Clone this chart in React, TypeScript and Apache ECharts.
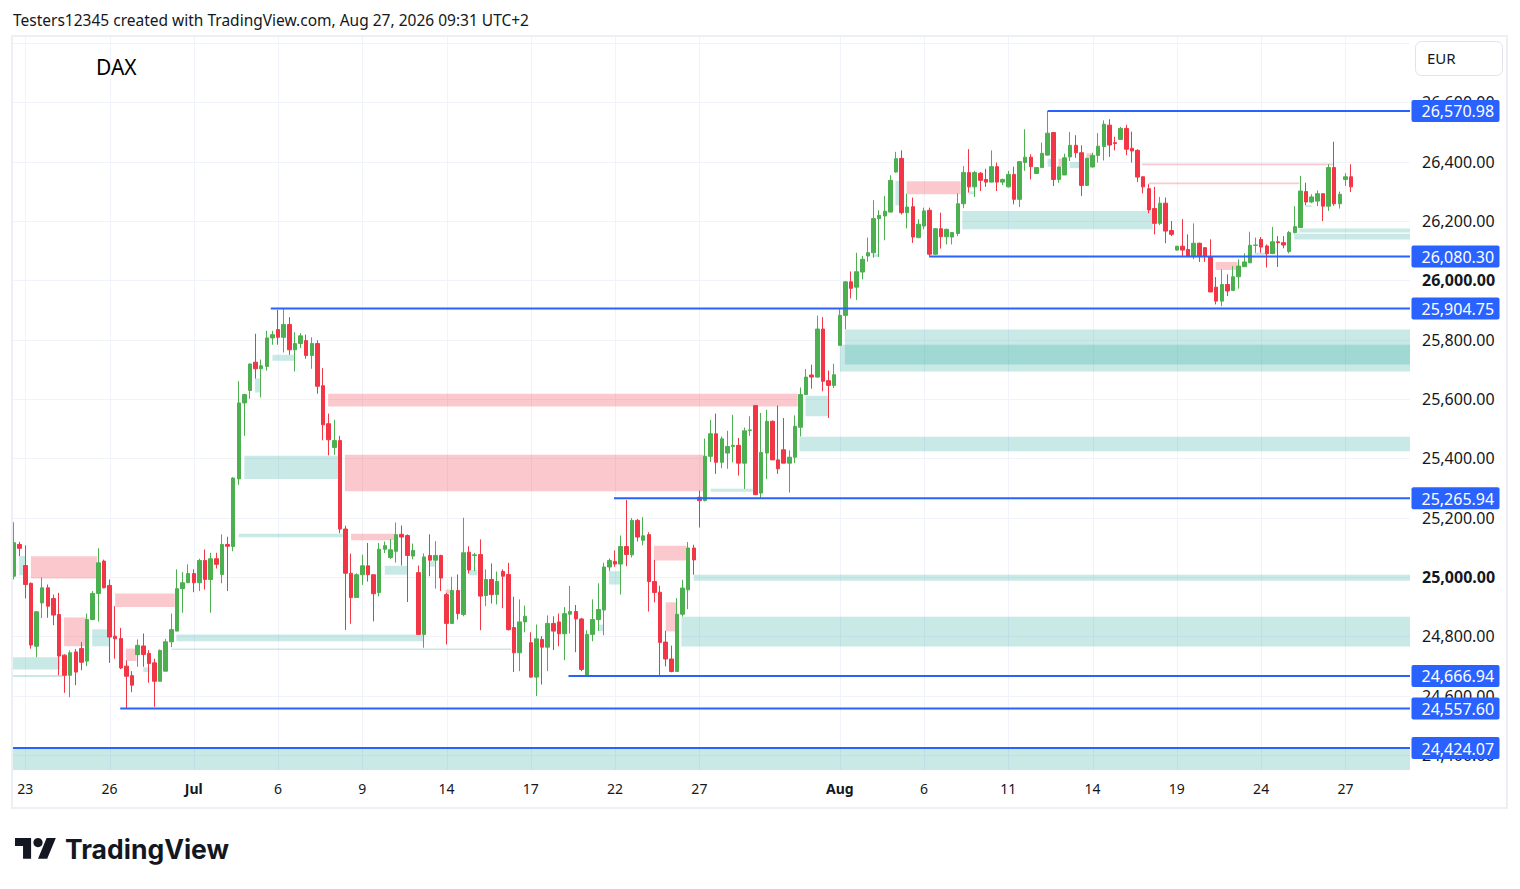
import React, { useEffect, useRef } from "react";
import * as echarts from "echarts";

const FONT = '"Noto Sans", "DejaVu Sans", sans-serif';
const UP = "#4caf50";
const DOWN = "#f23645";
const BLUE = "#2962ff";
const TEXT = "#131722";
const GRIDC = "#f0f3fa";
const GREEN_ZONE = "rgba(38,166,154,0.25)";
const RED_ZONE = "rgba(242,54,69,0.27)";

// trading days shown: [date, number of candles]
const tradingDays: [string, number][] = [
  ["06-22", 2], ["06-23", 5], ["06-24", 5], ["06-25", 5], ["06-26", 5],
  ["06-29", 5], ["06-30", 5], ["07-01", 5], ["07-02", 5], ["07-03", 5],
  ["07-06", 5], ["07-07", 5], ["07-08", 5], ["07-09", 5], ["07-10", 5],
  ["07-13", 5], ["07-14", 5], ["07-15", 5], ["07-16", 5], ["07-17", 5],
  ["07-20", 5], ["07-21", 5], ["07-22", 5], ["07-23", 5], ["07-24", 5],
  ["07-27", 5], ["07-28", 5], ["07-29", 5], ["07-30", 5], ["07-31", 5],
  ["08-03", 5], ["08-04", 5], ["08-05", 5], ["08-06", 5], ["08-07", 5],
  ["08-10", 5], ["08-11", 5], ["08-12", 5], ["08-13", 5], ["08-14", 5],
  ["08-17", 5], ["08-18", 5], ["08-19", 5], ["08-20", 5], ["08-21", 5],
  ["08-24", 5], ["08-25", 5], ["08-26", 5], ["08-27", 2],
];

// time-axis tick labels: [day, label]
const xTicks: [string, string][] = [
  ["06-23", "23"], ["06-26", "26"], ["07-01", "Jul"], ["07-06", "6"],
  ["07-09", "9"], ["07-14", "14"], ["07-17", "17"], ["07-22", "22"],
  ["07-27", "27"], ["08-03", "Aug"], ["08-06", "6"], ["08-11", "11"],
  ["08-14", "14"], ["08-19", "19"], ["08-24", "24"], ["08-27", "27"],
];
const boldTicks = ["Jul", "Aug"];

// price scale
const priceTicks = [24400, 24600, 24800, 25000, 25200, 25400, 25600, 25800, 26000, 26200, 26400, 26600, 26800];
const priceLabelTicks = [24400, 24600, 24800, 25000, 25200, 25400, 25600, 25800, 26000, 26200, 26400, 26600];
const boldPrices = [25000, 26000];
const priceMin = 24350;
const priceMax = 26820;

// candles: [open, close, low, high]
const wkJun22: number[][] = [
  [25003, 25116, 24992, 25185], [25110, 25097, 25071, 25119],
  [25039, 24975, 24928, 25107], [24979, 24771, 24759, 24982], [24767, 24883, 24730, 24885], [24913, 24964, 24862, 24999], [24964, 24902, 24863, 24975],
  [24928, 24872, 24838, 24941], [24874, 24734, 24669, 24947], [24737, 24669, 24610, 24740], [24669, 24745, 24595, 24753], [24748, 24680, 24636, 24758],
  [24759, 24713, 24686, 24781], [24717, 24857, 24700, 24877], [24857, 24945, 24855, 24953], [24945, 25048, 24850, 25097], [25054, 24964, 24962, 25059],
  [24972, 24798, 24711, 24992], [24801, 24792, 24725, 24902], [24793, 24694, 24690, 24829], [24700, 24666, 24557.6, 24719], [24668, 24636, 24612, 24683],
];
const wkJun29: number[][] = [
  [24739, 24770, 24698, 24790], [24768, 24739, 24698, 24810], [24743, 24709, 24644, 24754], [24711, 24649, 24563, 24725], [24649, 24753, 24649, 24756],
  [24683, 24782, 24683, 24792], [24782, 24823, 24764, 24877], [24818, 24961, 24818, 25026], [24961, 24981, 24880, 25017], [24981, 25012, 24981, 25043],
  [25012, 24981, 24949, 25026], [24981, 25056, 24953, 25062], [25056, 24992, 24958, 25093], [24992, 25062, 24880, 25082], [25062, 25043, 25029, 25082],
  [25009, 25110, 24979, 25144], [25110, 25104, 24953, 25136], [25103, 25334, 25087, 25336], [25331, 25587, 25311, 25660], [25587, 25615, 25476, 25618],
  [25629, 25718, 25601, 25720], [25724, 25702, 25669, 25820], [25702, 25712, 25606, 25733], [25710, 25806, 25696, 25830], [25806, 25817, 25783, 25830],
];
const wkJul06: number[][] = [
  [25834, 25808, 25783, 25900], [25808, 25851, 25757, 25904.75], [25851, 25766, 25749, 25876], [25766, 25787, 25693, 25825], [25787, 25813, 25772, 25822],
  [25797, 25747, 25736, 25817], [25747, 25787, 25702, 25808], [25787, 25643, 25618, 25798], [25645, 25513, 25461, 25704], [25517, 25463, 25410, 25551],
  [25437, 25460, 25412, 25530], [25460, 25162, 25148, 25476], [25162, 25013, 24822, 25173], [25013, 24931, 24843, 25079], [24931, 25008, 24931, 25013],
  [25008, 25038, 24974, 25075], [25038, 25008, 24985, 25115], [25008, 24944, 24851, 25008], [24948, 25094, 24935, 25115], [25094, 25106, 25081, 25120],
  [25066, 25092, 25061, 25128], [25087, 25143, 25049, 25184], [25144, 25135, 25039, 25174], [25140, 25073, 24916, 25144], [25071, 25090, 25060, 25113],
];
const wkJul13: number[][] = [
  [25015, 24807, 24805, 25039], [24807, 25068, 24762, 25080], [25073, 25057, 25003, 25144], [25057, 25073, 24961, 25121], [25073, 24997, 24953, 25075],
  [24941, 24844, 24773, 24947], [24844, 24955, 24842, 25001], [24955, 24877, 24857, 25009], [24874, 25082, 24868, 25200], [25084, 25024, 25012, 25104],
  [25073, 25075, 25020, 25082], [25076, 24936, 24821, 25127], [24938, 24992, 24902, 25026], [24992, 24941, 24911, 25046], [24941, 24985, 24908, 25019],
  [25019, 25003, 24895, 25026], [25009, 24823, 24820, 25048], [24830, 24745, 24680, 24934], [24745, 24849, 24683, 24925], [24849, 24868, 24814, 24904],
  [24779, 24663, 24661, 24814], [24663, 24792, 24599, 24840], [24790, 24764, 24638, 24801], [24764, 24844, 24683, 24871], [24844, 24818, 24754, 24868],
];
const wkJul20: number[][] = [
  [24849, 24809, 24767, 24877], [24809, 24877, 24720, 24899], [24875, 24884, 24810, 24970], [24884, 24859, 24747, 24906], [24859, 24689, 24683, 24863],
  [24669, 24807, 24667, 24821], [24807, 24857, 24784, 24925], [24857, 24891, 24818, 24979], [24889, 25034, 24804, 25048], [25034, 25056, 25020, 25063],
  [25053, 25044, 25035, 25090], [25044, 25103, 24941, 25140], [25103, 25076, 25037, 25260], [25075, 25191, 25066, 25199], [25191, 25135, 25120, 25196],
  [25124, 25139, 25107, 25202], [25143, 24985, 24884, 25151], [24985, 24948, 24915, 25058], [24949, 24780, 24667, 24971], [24781, 24724, 24699, 24819],
  [24724, 24682, 24679, 24769], [24682, 24875, 24680, 24929], [24875, 24963, 24867, 24991], [24957, 25098, 24892, 25118], [25098, 25058, 25008, 25109],
];
const wkJul27: number[][] = [
  [25269, 25258, 25167, 25291], [25258, 25407, 25255, 25467], [25407, 25483, 25388, 25530], [25483, 25387, 25348, 25551], [25387, 25466, 25367, 25474],
  [25418, 25440, 25365, 25493], [25440, 25444, 25387, 25547], [25444, 25384, 25342, 25469], [25384, 25493, 25297, 25504], [25494, 25496, 25476, 25542],
  [25578, 25278, 25276, 25580], [25283, 25420, 25266, 25553], [25418, 25525, 25330, 25564], [25525, 25395, 25395, 25528], [25395, 25365, 25348, 25578],
  [25429, 25384, 25384, 25536], [25384, 25404, 25285, 25427], [25404, 25508, 25384, 25545], [25505, 25615, 25474, 25639], [25615, 25674, 25615, 25701],
  [25681, 25674, 25635, 25716], [25674, 25836, 25672, 25881], [25836, 25660, 25626, 25876], [25662, 25646, 25536, 25696], [25646, 25682, 25637, 25719],
];
const wkAug03: number[][] = [
  [25781, 25882, 25780, 25903], [25882, 25995, 25835, 25997], [25995, 25973, 25939, 26030], [25977, 26029, 25934, 26093], [26028, 26071, 26003, 26082],
  [26082, 26093, 26063, 26144], [26093, 26208, 26076, 26270], [26208, 26219, 26079, 26236], [26217, 26233, 26135, 26284], [26230, 26337, 26230, 26354],
  [26365, 26410, 26363, 26433], [26411, 26228, 26222, 26438], [26228, 26247, 26175, 26292], [26248, 26146, 26126, 26279], [26144, 26189, 26142, 26206],
  [26183, 26234, 26172, 26245], [26236, 26088, 26080.3, 26245], [26088, 26174, 26086, 26176], [26174, 26147, 26107, 26228], [26147, 26172, 26121, 26174],
  [26146, 26161, 26121, 26163], [26158, 26258, 26149, 26293], [26258, 26363, 26243, 26385], [26363, 26315, 26296, 26442], [26315, 26363, 26281, 26369],
];
const wkAug10: number[][] = [
  [26361, 26337, 26301, 26365], [26340, 26331, 26315, 26376], [26331, 26383, 26331, 26438], [26383, 26331, 26301, 26397], [26331, 26340, 26321, 26343],
  [26315, 26357, 26313, 26369], [26357, 26273, 26256, 26383], [26273, 26400, 26247, 26400], [26397, 26415, 26369, 26509], [26415, 26383, 26340, 26425],
  [26360, 26380, 26359, 26381], [26380, 26428, 26380, 26464], [26422, 26496, 26420, 26570.98], [26498, 26340, 26318, 26500], [26340, 26382, 26329, 26383],
  [26355, 26413, 26355, 26427], [26416, 26455, 26402, 26500], [26455, 26430, 26413, 26489], [26430, 26320, 26284, 26455], [26320, 26411, 26318, 26413],
  [26382, 26421, 26380, 26430], [26421, 26452, 26397, 26496], [26451, 26526, 26404, 26539], [26523, 26456, 26416, 26543], [26464, 26461, 26438, 26484],
];
const wkAug17: number[][] = [
  [26475, 26512, 26473, 26517], [26512, 26442, 26422, 26524], [26445, 26436, 26397, 26501], [26438, 26348, 26331, 26442], [26349, 26315, 26293, 26350],
  [26309, 26237, 26226, 26324], [26242, 26192, 26155, 26315], [26192, 26260, 26186, 26281], [26260, 26166, 26125, 26279], [26168, 26155, 26149, 26200],
  [26102, 26115, 26100, 26116], [26115, 26102, 26082, 26206], [26104, 26080, 26078, 26155], [26080, 26125, 26071, 26192], [26125, 26080, 26062, 26127],
  [26110, 26080, 26062, 26112], [26080, 25961, 25960, 26138], [25977, 25930, 25919, 26011], [25930, 25986, 25913, 26037], [25986, 25964, 25947, 26020],
  [25966, 26012, 25966, 26048], [26012, 26048, 25972, 26071], [26046, 26062, 26045, 26091], [26059, 26118, 26059, 26164], [26118, 26119, 26093, 26144],
];
const wkAug24: number[][] = [
  [26138, 26112, 26093, 26146], [26116, 26090, 26043, 26121], [26090, 26130, 26090, 26180], [26130, 26127, 26045, 26149], [26127, 26119, 26108, 26149],
  [26097, 26161, 26091, 26166], [26161, 26181, 26158, 26250], [26178, 26301, 26178, 26352], [26299, 26264, 26253, 26329], [26264, 26281, 26260, 26290],
  [26267, 26292, 26250, 26303], [26292, 26250, 26200, 26292], [26250, 26380, 26234, 26391], [26380, 26258, 26251, 26467], [26258, 26290, 26242, 26299],
  [26340, 26349, 26318, 26361], [26349, 26315, 26298, 26391],
];

// zones: [fromCandle, toCandle (999 = right edge), top price, bottom price]
const END = 999;
const greenZones: number[][] = [
  [-1, 8.2, 24730, 24689], [-1, 8.8, 24670, 24663], [0.9, 1.95, 25071, 25006],
  [13.9, 17.0, 24824, 24767], [23.0, 24.1, 24696, 24680], [28.9, 72.8, 24807, 24784],
  [28.0, 88.5, 24759, 24754], [40.0, 58.5, 25146, 25134], [41.0, 57.7, 25409, 25331],
  [42.9, 43.9, 25669, 25622], [46.0, 50.0, 25749, 25729], [66.0, 70.0, 25038, 25008],
  [74.0, 74.9, 25054, 25035], [81.0, 82.5, 25024, 25006], [104.0, 105.0, 24840, 24818],
  [105.9, 108.0, 25020, 24975], [121.0, END, 25008, 24988], [118.8, END, 24866, 24766],
  [124.0, 131.5, 25298, 25288], [140.9, 144.9, 25611, 25542], [139.8, END, 25473, 25424],
  [147.9, END, 25834, 25716], [147.0, END, 25783, 25693], [152.8, 154.0, 26088, 26079],
  [156.9, 157.8, 26335, 26253], [168.8, 202.7, 26234, 26172], [169.9, 171.0, 26300, 26290],
  [184.0, 185.2, 26410, 26383], [187.9, 189.7, 26399, 26378], [220.8, 222.9, 26093, 26086],
  [229.9, 231.0, 26253, 26247], [228.8, END, 26175, 26161], [227.9, END, 26157, 26138],
  [-1, END, 24424.07, 24300],
];
const redZones: number[][] = [
  [3.0, 14.8, 25070, 24995], [8.9, 12.8, 24864, 24767], [18.0, 28.6, 24945, 24899],
  [19.9, 21.8, 24759, 24717], [55.9, 139.5, 25618, 25575], [58.9, 122.8, 25412, 25289],
  [60.0, 67.8, 25146, 25124], [76.8, 77.7, 24958, 24945], [113.9, 119.7, 25106, 25056],
  [116.0, 118.0, 24915, 24817], [158.9, 168.5, 26334, 26290], [185.9, 186.7, 26410, 26383],
  [190.9, 192.0, 26428, 26408], [200.8, 235.0, 26394, 26388], [202.0, 228.8, 26330, 26324],
  [213.9, 217.8, 26062, 26035],
];

// horizontal levels: [price, fromCandle]
const levels: number[][] = [
  [26570.98, 184.0], [26080.3, 162.9], [25904.75, 45.7], [25265.94, 106.8],
  [24666.94, 98.7], [24557.6, 18.9], [24424.07, -1],
];

const EMPTY_SLOTS = 10;

function fmt(v: number) {
  return v.toLocaleString("en-US", { minimumFractionDigits: 2, maximumFractionDigits: 2 });
}

let logoRegistered = false;

export default function App() {
  const ref = useRef<HTMLDivElement>(null);

  useEffect(() => {
    if (!ref.current) return;
    if (!logoRegistered) {
      echarts.graphic.registerShape(
        "tvlogo",
        echarts.graphic.extendPath("M14 22H7V11H0V4h14v18zM28 22h-8l7.5-18h8L28 22z", {}) as any
      );
      logoRegistered = true;
    }
    const chart = echarts.init(ref.current, undefined, { renderer: "svg" });

    const candles = [
      ...wkJun22, ...wkJun29, ...wkJul06, ...wkJul13, ...wkJul20,
      ...wkJul27, ...wkAug03, ...wkAug10, ...wkAug17, ...wkAug24,
    ];
    const categories: string[] = [];
    tradingDays.forEach(([d, n]) => {
      for (let k = 0; k < n; k++) categories.push(`${d} #${k + 1}`);
    });
    for (let k = 0; k < EMPTY_SLOTS; k++) categories.push(`+${k + 1}`);
    const tickAt = new Map<number, string>();
    xTicks.forEach(([d, label]) => tickAt.set(categories.indexOf(`${d} #1`), label));
    const tickIdx = Array.from(tickAt.keys());

    const zones = [
      ...greenZones.map((z) => ({ z, c: GREEN_ZONE })),
      ...redZones.map((z) => ({ z, c: RED_ZONE })),
    ];

    const xOf = (api: any, i: number, cs: any) => {
      if (i >= END) return cs.x + cs.width;
      const bw = api.size([1, 0])[0];
      const x = api.coord([0, 25000])[0] + i * bw;
      return Math.max(cs.x, Math.min(cs.x + cs.width, x));
    };

    const option: any = {
      animation: false,
      backgroundColor: "#ffffff",
      grid: { left: 11.25, right: 110, top: 37, bottom: 119, containLabel: false },
      xAxis: {
        type: "category",
        data: categories,
        boundaryGap: true,
        axisLine: { show: false },
        axisTick: { show: false },
        splitLine: { show: false },
        axisLabel: {
          interval: (idx: number) => tickAt.has(idx),
          formatter: (_v: string, idx: number) => {
            const t = tickAt.get(idx) || "";
            return boldTicks.includes(t) ? `{b|${t}}` : t;
          },
          color: TEXT,
          fontSize: 14,
          fontFamily: FONT,
          margin: 11,
          rich: { b: { fontWeight: "bold", fontSize: 14, fontFamily: FONT, color: TEXT } },
        },
      },
      yAxis: {
        type: "value",
        position: "right",
        min: priceMin,
        max: priceMax,
        show: false,
        splitLine: { show: false },
      },
      series: [
        {
          type: "custom",
          name: "hgrid",
          z: 0,
          silent: true,
          data: priceTicks.map(() => [0, 25000]),
          renderItem: (params: any, api: any) => {
            const cs = params.coordSys;
            const y = Math.round(api.coord([0, priceTicks[params.dataIndex]])[1]) + 0.5;
            return {
              type: "line",
              shape: { x1: cs.x, y1: y, x2: cs.x + cs.width, y2: y },
              style: { stroke: GRIDC, lineWidth: 1 },
            };
          },
        },
        {
          type: "custom",
          name: "vgrid",
          z: 0,
          silent: true,
          data: tickIdx.map(() => [0, 25000]),
          renderItem: (params: any, api: any) => {
            const cs = params.coordSys;
            const x = Math.round(api.coord([tickIdx[params.dataIndex], 25000])[0]) + 0.5;
            return {
              type: "line",
              shape: { x1: x, y1: cs.y, x2: x, y2: cs.y + cs.height },
              style: { stroke: GRIDC, lineWidth: 1 },
            };
          },
        },
        {
          type: "custom",
          name: "zones",
          z: 1,
          silent: true,
          data: zones.map(() => [0, 25000]),
          renderItem: (params: any, api: any) => {
            const cs = params.coordSys;
            const { z, c } = zones[params.dataIndex];
            const xa = xOf(api, z[0], cs);
            const xb = xOf(api, z[1], cs);
            const ya = Math.max(cs.y, api.coord([0, z[2]])[1]);
            const yb = Math.min(cs.y + cs.height, api.coord([0, z[3]])[1]);
            return {
              type: "rect",
              shape: { x: xa, y: ya, width: Math.max(0, xb - xa), height: Math.max(0, yb - ya) },
              style: { fill: c },
            };
          },
        },
        {
          type: "candlestick",
          name: "DAX",
          z: 2,
          barWidth: 4,
          data: candles,
          itemStyle: {
            color: UP,
            color0: DOWN,
            borderColor: UP,
            borderColor0: DOWN,
            borderWidth: 1,
          },
        },
        {
          type: "custom",
          name: "levels",
          z: 3,
          silent: true,
          data: levels.map(() => [0, 25000]),
          renderItem: (params: any, api: any) => {
            const cs = params.coordSys;
            const [p, from] = levels[params.dataIndex];
            const y = api.coord([0, p])[1];
            return {
              type: "line",
              shape: { x1: xOf(api, from, cs), y1: y, x2: cs.x + cs.width, y2: y },
              style: { stroke: BLUE, lineWidth: 2 },
            };
          },
        },
        {
          type: "custom",
          name: "priceLabels",
          z: 4,
          silent: true,
          clip: false,
          data: priceLabelTicks.map(() => [0, 25000]),
          renderItem: (params: any, api: any) => {
            const cs = params.coordSys;
            const p = priceLabelTicks[params.dataIndex];
            const y = api.coord([0, p])[1];
            const bold = boldPrices.includes(p);
            return {
              type: "text",
              x: cs.x + cs.width + 12,
              y: y,
              style: {
                text: fmt(p),
                fill: TEXT,
                fontSize: 16,
                fontWeight: bold ? "bold" : "normal",
                fontFamily: FONT,
                verticalAlign: "middle",
                align: "left",
              },
            };
          },
        },
        {
          type: "custom",
          name: "levelLabels",
          z: 5,
          silent: true,
          clip: false,
          data: levels.map(() => [0, 25000]),
          renderItem: (params: any, api: any) => {
            const cs = params.coordSys;
            const p = levels[params.dataIndex][0];
            const y = api.coord([0, p])[1];
            const x = cs.x + cs.width + 1.5;
            return {
              type: "group",
              children: [
                {
                  type: "rect",
                  shape: { x: x, y: y - 11, width: 88, height: 22, r: 2 },
                  style: { fill: BLUE },
                },
                {
                  type: "text",
                  x: x + 10,
                  y: y + 0.5,
                  style: {
                    text: fmt(p),
                    fill: "#ffffff",
                    fontSize: 16,
                    fontFamily: FONT,
                    verticalAlign: "middle",
                    align: "left",
                  },
                },
              ],
            };
          },
        },
      ],
      graphic: [
        {
          type: "rect",
          z: 10,
          silent: true,
          shape: { x: 12, y: 36, width: 1495, height: 772 },
          style: { fill: "none", stroke: "#eceff4", lineWidth: 2 },
        },
        {
          type: "text",
          z: 10,
          x: 13,
          y: 20,
          style: {
            text: "Testers12345 created with TradingView.com, Aug 27, 2026 09:31 UTC+2",
            fill: TEXT,
            fontSize: 15.5,
            fontFamily: FONT,
            verticalAlign: "middle",
          },
        },
        {
          type: "text",
          z: 10,
          x: 96,
          y: 67,
          style: { text: "DAX", fill: "#000000", fontSize: 21, fontFamily: FONT, verticalAlign: "middle" },
        },
        {
          type: "rect",
          z: 10,
          shape: { x: 1415.5, y: 41.5, width: 87, height: 34, r: 6 },
          style: { fill: "#ffffff", stroke: "#e0e3eb", lineWidth: 1 },
        },
        {
          type: "text",
          z: 11,
          x: 1427,
          y: 58,
          style: { text: "EUR", fill: TEXT, fontSize: 15, fontFamily: FONT, verticalAlign: "middle" },
        },
        {
          type: "tvlogo",
          z: 10,
          x: 15,
          y: 833.4,
          scaleX: 1.15,
          scaleY: 1.15,
          style: { fill: TEXT },
        },
        {
          type: "circle",
          z: 10,
          shape: { cx: 15 + 20 * 1.15, cy: 833.4 + 8 * 1.15, r: 4 * 1.15 },
          style: { fill: TEXT },
        },
        {
          type: "text",
          z: 10,
          x: 65,
          y: 849,
          style: {
            text: "TradingView",
            fill: TEXT,
            fontSize: 26.5,
            fontWeight: 700,
            fontFamily: "Inter, " + FONT,
            verticalAlign: "middle",
          },
        },
      ],
    };

    chart.setOption(option);
    return () => chart.dispose();
  }, []);

  return (
    <div
      ref={ref}
      style={{ position: "fixed", left: 0, top: 0, width: 1520, height: 889, background: "#ffffff" }}
    />
  );
}
